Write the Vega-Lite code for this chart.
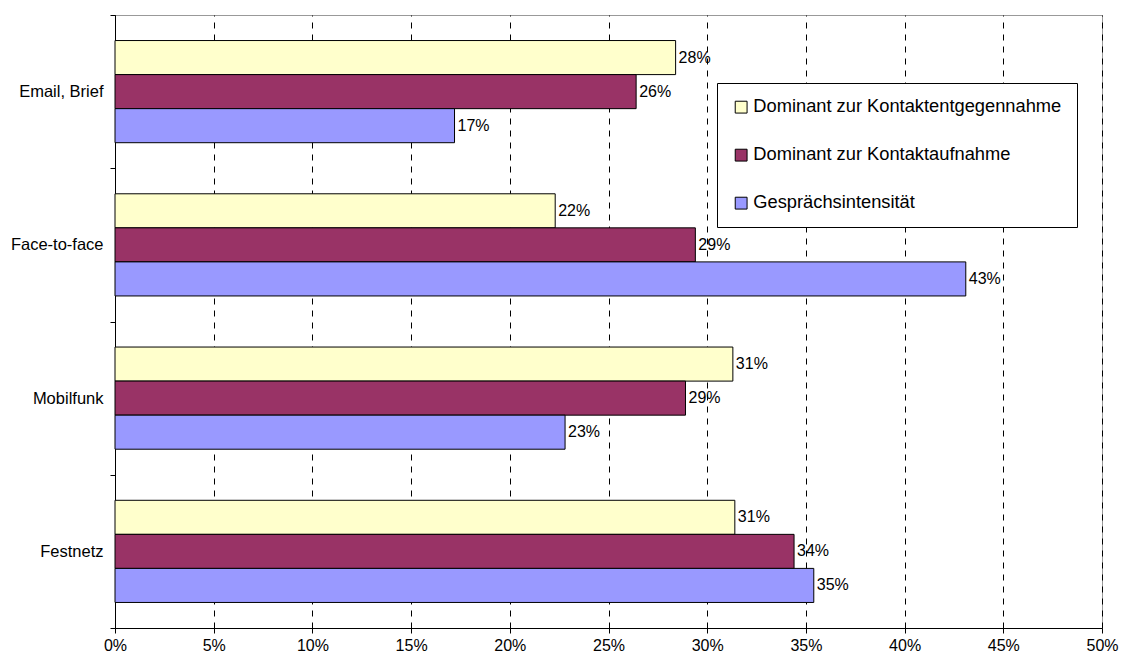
{
  "$schema": "https://vega.github.io/schema/vega-lite/v6.json",
  "width": 987,
  "height": 613,
  "autosize": {"type": "none"},
  "padding": {"left": 115, "top": 15, "right": 29, "bottom": 32},
  "background": "white",
  "config": {
    "view": {"stroke": "#999", "strokeWidth": 1},
    "font": "Liberation Sans",
    "axis": {"labelFont": "Liberation Sans", "labelColor": "#000", "domainColor": "#000", "tickColor": "#000"},
    "legend": {"labelFont": "Liberation Sans"}
  },
  "data": {
    "values": [
      {"channel": "Email, Brief", "series": "Dominant zur Kontaktentgegennahme", "value": 0.284},
      {"channel": "Email, Brief", "series": "Dominant zur Kontaktaufnahme", "value": 0.264},
      {"channel": "Email, Brief", "series": "Gesprächsintensität", "value": 0.172},
      {"channel": "Face-to-face", "series": "Dominant zur Kontaktentgegennahme", "value": 0.223},
      {"channel": "Face-to-face", "series": "Dominant zur Kontaktaufnahme", "value": 0.294},
      {"channel": "Face-to-face", "series": "Gesprächsintensität", "value": 0.431},
      {"channel": "Mobilfunk", "series": "Dominant zur Kontaktentgegennahme", "value": 0.313},
      {"channel": "Mobilfunk", "series": "Dominant zur Kontaktaufnahme", "value": 0.289},
      {"channel": "Mobilfunk", "series": "Gesprächsintensität", "value": 0.228},
      {"channel": "Festnetz", "series": "Dominant zur Kontaktentgegennahme", "value": 0.314},
      {"channel": "Festnetz", "series": "Dominant zur Kontaktaufnahme", "value": 0.344},
      {"channel": "Festnetz", "series": "Gesprächsintensität", "value": 0.354}
    ]
  },
  "encoding": {
    "y": {
      "field": "channel",
      "type": "nominal",
      "sort": ["Email, Brief", "Face-to-face", "Mobilfunk", "Festnetz"],
      "scale": {"paddingInner": 0, "paddingOuter": 0},
      "axis": {
        "title": null,
        "tickBand": "extent",
        "tickSize": 5,
        "labelFontSize": 16.5,
        "labelPadding": 7,
        "domainWidth": 1,
        "grid": false
      }
    },
    "yOffset": {
      "field": "series",
      "type": "nominal",
      "sort": ["Dominant zur Kontaktentgegennahme", "Dominant zur Kontaktaufnahme", "Gesprächsintensität"],
      "scale": {"paddingInner": 0, "paddingOuter": 0.75}
    },
    "x": {
      "field": "value",
      "type": "quantitative",
      "scale": {"domain": [0, 0.5], "nice": false},
      "axis": {
        "title": null,
        "values": [0, 0.05, 0.1, 0.15, 0.2, 0.25, 0.3, 0.35, 0.4, 0.45, 0.5],
        "format": ".0%",
        "labelFontSize": 16,
        "tickSize": 5,
        "labelPadding": 4,
        "grid": true,
        "gridColor": "#000",
        "gridDash": [6, 6],
        "gridWidth": 1,
        "labelFlush": false
      }
    }
  },
  "layer": [
    {
      "mark": {"type": "bar", "stroke": "#000", "strokeWidth": 1},
      "encoding": {
        "color": {
          "field": "series",
          "type": "nominal",
          "sort": ["Dominant zur Kontaktentgegennahme", "Dominant zur Kontaktaufnahme", "Gesprächsintensität"],
          "scale": {
            "domain": ["Dominant zur Kontaktentgegennahme", "Dominant zur Kontaktaufnahme", "Gesprächsintensität"],
            "range": ["#FFFFCC", "#993366", "#9999FF"]
          },
          "legend": {
            "title": null,
            "orient": "none",
            "legendX": 602,
            "legendY": 68,
            "strokeColor": "#000",
            "fillColor": "#fff",
            "padding": 15,
            "rowPadding": 29,
            "symbolType": "square",
            "symbolSize": 140,
            "symbolStrokeColor": "#000",
            "symbolStrokeWidth": 1,
            "symbolOpacity": 1,
            "labelFontSize": 18.3,
            "labelColor": "#000",
            "labelOffset": 3,
            "labelLimit": 400
          }
        }
      }
    },
    {
      "mark": {"type": "text", "align": "left", "baseline": "middle", "dx": 3, "fontSize": 16, "color": "#000"},
      "encoding": {
        "text": {"field": "value", "type": "quantitative", "format": ".0%"}
      }
    }
  ]
}
